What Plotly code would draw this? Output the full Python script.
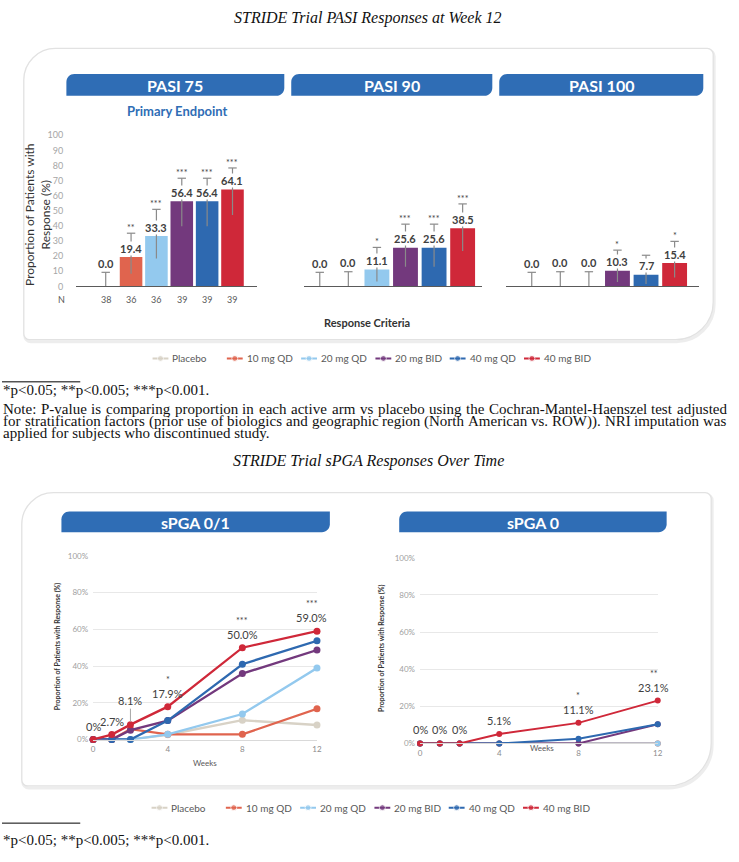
import plotly.graph_objects as go

W, H = 739, 862

# ---------------- data ----------------
arms = ["Placebo", "10 mg QD", "20 mg QD", "20 mg BID", "40 mg QD", "40 mg BID"]
n_per_arm = [38, 36, 36, 39, 39, 39]

pasi_criteria = ["PASI 75", "PASI 90", "PASI 100"]

pasi75_pct = [0.0, 19.4, 33.3, 56.4, 56.4, 64.1]
pasi75_ci_hi = [9.3, 35.2, 51.0, 71.6, 71.6, 78.4]
pasi75_ci_lo = [0.0, 8.3, 18.4, 39.8, 39.8, 47.2]
pasi75_sig = ["", "**", "***", "***", "***", "***"]

pasi90_pct = [0.0, 0.0, 11.1, 25.6, 25.6, 38.5]
pasi90_ci_hi = [9.3, 9.7, 25.8, 41.2, 41.2, 54.6]
pasi90_ci_lo = [0.0, 0.0, 3.3, 13.0, 13.0, 23.4]
pasi90_sig = ["", "", "*", "***", "***", "***"]

pasi100_pct = [0.0, 0.0, 0.0, 10.3, 7.7, 15.4]
pasi100_ci_hi = [9.3, 9.7, 9.7, 24.0, 20.6, 29.8]
pasi100_ci_lo = [0.0, 0.0, 0.0, 2.9, 1.6, 5.9]
pasi100_sig = ["", "", "", "*", "", "*"]

weeks = [0, 1, 2, 4, 8, 12]
spga_titles = ["sPGA 0/1", "sPGA 0"]

spga01_placebo = [0, 0, 0, 2.6, 10.5, 7.9]
spga01_10qd = [0, 0, 5.6, 2.8, 2.8, 16.7]
spga01_20qd = [0, 0, 0, 2.8, 13.9, 38.9]
spga01_20bid = [0, 0, 5.1, 10.3, 35.9, 48.7]
spga01_40qd = [0, 0, 0, 10.3, 41.0, 53.8]
spga01_40bid = [0, 2.7, 8.1, 17.9, 50.0, 59.0]
spga01_sig = ["", "", "", "*", "***", "***"]

spga0_placebo = [0, 0, 0, 0, 0, 0]
spga0_10qd = [0, 0, 0, 0, 0, 0]
spga0_20qd = [0, 0, 0, 0, 0, 0]
spga0_20bid = [0, 0, 0, 0, 0, 10.3]
spga0_40qd = [0, 0, 0, 0, 2.6, 10.3]
spga0_40bid = [0, 0, 0, 5.1, 11.1, 23.1]
spga0_sig = ["", "", "", "", "*", "**"]

pct_ticks = [0, 20, 40, 60, 80, 100]
pct_ticktext = ["0%", "20%", "40%", "60%", "80%", "100%"]

title_top = "STRIDE Trial PASI Responses at Week 12"
title_bottom = "STRIDE Trial sPGA Responses Over Time"
sig_note = "*p&lt;0.05; **p&lt;0.005; ***p&lt;0.001."
note_lines = [
    "Note: P-value is comparing proportion in each active arm vs placebo using the Cochran-Mantel-Haenszel test adjusted",
    "for stratification factors (prior use of biologics and geographic region (North American vs. ROW)). NRI imputation was",
    "applied for subjects who discontinued study.",
]

# ---------------- styles ----------------
arm_colors = ["#D8D2C6", "#E0644E", "#93C9EE", "#73397D", "#2E69B0", "#CF2839"]
HEADER = "#2F6DB5"
ERR = "#8A8A8A"
LABEL = "#404040"
SANS = "Lato"
SERIF = "Liberation Serif"


def px(x):
    return x / W


def py(y):
    return 1 - y / H


def rounded(x0, y0, x1, y1, tl=0, tr=0, br=0, bl=0):
    k = 0.4477

    def P(x, y):
        return f"{x / W:.5f},{1 - y / H:.5f}"

    d = f"M{P(x0 + tl, y0)} L{P(x1 - tr, y0)}"
    if tr:
        d += f" C{P(x1 - tr * k, y0)} {P(x1, y0 + tr * k)} {P(x1, y0 + tr)}"
    d += f" L{P(x1, y1 - br)}"
    if br:
        d += f" C{P(x1, y1 - br * k)} {P(x1 - br * k, y1)} {P(x1 - br, y1)}"
    d += f" L{P(x0 + bl, y1)}"
    if bl:
        d += f" C{P(x0 + bl * k, y1)} {P(x0, y1 - bl * k)} {P(x0, y1 - bl)}"
    d += f" L{P(x0, y0 + tl)}"
    if tl:
        d += f" C{P(x0, y0 + tl * k)} {P(x0 + tl * k, y0)} {P(x0 + tl, y0)}"
    return d + " Z"


annotations = []
shapes = []


def ann(x, y, text, size, color="#000", family=SANS, xanchor="center", yanchor="middle", **kw):
    annotations.append(dict(x=px(x), y=py(y), xref="paper", yref="paper", text=text,
                            showarrow=False, xanchor=xanchor, yanchor=yanchor,
                            font=dict(size=size, color=color, family=family),
                            borderpad=0, borderwidth=0, **kw))


fig = go.Figure()
layout = {}

# ---------------- panel backgrounds ----------------
for (x0, y0, x1, y1, tl, br) in [(22, 43, 718, 338, 32, 38), (20, 493, 716, 790, 32, 44)]:
    shapes.append(dict(type="path", xref="paper", yref="paper", layer="below",
                       path=rounded(x0 + 1, y0 + 2, x1 + 1, y1 + 2, tl, 6, br, 6),
                       line=dict(color="rgba(0,0,0,0.07)", width=3), fillcolor="rgba(0,0,0,0)"))
    shapes.append(dict(type="path", xref="paper", yref="paper", layer="below",
                       path=rounded(x0, y0, x1, y1, tl, 6, br, 6),
                       line=dict(color="#E2E2E2", width=1.3), fillcolor="white"))

# header bars
headers = [(65, 285, 69, 91, pasi_criteria[0]), (292, 495, 69, 91, pasi_criteria[1]),
           (502, 708, 69, 91, pasi_criteria[2]),
           (60, 331, 512, 533, spga_titles[0]), (401, 671, 512, 533, spga_titles[1])]
for (x0, x1, y0, y1, txt) in headers:
    shapes.append(dict(type="path", xref="paper", yref="paper", layer="below",
                       path=rounded(x0, y0, x1, y1, 8, 0, 8, 0),
                       line=dict(width=0), fillcolor=HEADER))
    ann((x0 + x1) / 2, (y0 + y1) / 2 + 0.5, f"<b>{txt}</b>", 16, "white")

# ---------------- bar panels ----------------
bar_geom = [
    dict(x0=75, x1=257, c0=104.7, step=25.6, width=0.89),
    dict(x0=305, x1=485, c0=320.8, step=28.85, width=0.87),
    dict(x0=509, x1=704, c0=534.8, step=28.85, width=0.87),
]
pasi_sets = [
    (pasi75_pct, pasi75_ci_lo, pasi75_ci_hi, pasi75_sig),
    (pasi90_pct, pasi90_ci_lo, pasi90_ci_hi, pasi90_sig),
    (pasi100_pct, pasi100_ci_lo, pasi100_ci_hi, pasi100_sig),
]
idx = list(range(len(arms)))

for k, (vals, lo, hi, sig) in enumerate(pasi_sets):
    g = bar_geom[k]
    sfx = "" if k == 0 else str(k + 1)
    xa, ya = "x" + sfx, "y" + sfx
    fig.add_trace(go.Bar(x=idx, y=vals, width=g["width"], xaxis=xa, yaxis=ya,
                         marker=dict(color=arm_colors, line=dict(width=0)),
                         showlegend=False, hoverinfo="skip"))
    ex, ey = [], []
    for i in idx:
        ex += [i, i, None]
        ey += [lo[i], hi[i], None]
    fig.add_trace(go.Scatter(x=ex, y=ey, mode="lines", xaxis=xa, yaxis=ya,
                             line=dict(color=ERR, width=1.2), showlegend=False, hoverinfo="skip"))
    fig.add_trace(go.Scatter(x=idx, y=hi, mode="markers", xaxis=xa, yaxis=ya, cliponaxis=False,
                             marker=dict(symbol="line-ew", size=6, color=ERR,
                                         line=dict(color=ERR, width=1.2)),
                             showlegend=False, hoverinfo="skip"))
    layout["xaxis" + sfx] = dict(domain=[px(g["x0"]), px(g["x1"])],
                                 range=[(g["x0"] - g["c0"]) / g["step"], (g["x1"] - g["c0"]) / g["step"]],
                                 showline=True, linecolor="#5A5A5A", linewidth=1, showticklabels=False,
                                 ticks="", showgrid=False, zeroline=False, anchor=ya, fixedrange=True)
    layout["yaxis" + sfx] = dict(domain=[py(284), py(131)], range=[0, 100], showgrid=False, zeroline=False,
                                 showline=False, showticklabels=(k == 0), tickvals=list(range(0, 101, 10)),
                                 tickfont=dict(size=9, color="#A6A6A6"), ticklabelstandoff=12,
                                 ticks="", anchor=xa, fixedrange=True)
    for i in idx:
        base = vals[i] if vals[i] > 0 else hi[i]
        annotations.append(dict(x=i, y=base, xref=xa, yref=ya, text=f"<b>{vals[i]:.1f}</b>",
                                showarrow=False, yanchor="bottom", yshift=1.5, bgcolor="white",
                                borderpad=0, font=dict(size=11, color=LABEL, family=SANS)))
        if sig[i]:
            annotations.append(dict(x=i, y=hi[i], xref=xa, yref=ya, text=sig[i], showarrow=False,
                                    yanchor="bottom", yshift=-1, borderpad=0,
                                    font=dict(size=9, color=LABEL, family=SANS)))
        if k == 0:
            annotations.append(dict(x=i, y=py(297), xref=xa, yref="paper", text=str(n_per_arm[i]),
                                    showarrow=False, font=dict(size=9, color="#595959", family=SANS)))

ann(60, 297, "N", 9, "#595959")
ann(177, 106, "<b>Primary Endpoint</b>", 13, HEADER)
ann(36, 212, "Proportion of Patients with<br>Response (%)", 12, "#333333", textangle=-90)
ann(368, 321, "<b>Response Criteria</b>", 11, "#333333")

# ---------------- line panels ----------------
line_geom = [dict(x0=92, x1=318, y0=743, y1=557, lw=2.3, ms=7),
             dict(x0=422, x1=662, y0=747, y1=559, lw=2.0, ms=6)]
spga_sets = [
    ([spga01_placebo, spga01_10qd, spga01_20qd, spga01_20bid, spga01_40qd, spga01_40bid], spga01_sig),
    ([spga0_placebo, spga0_10qd, spga0_20qd, spga0_20bid, spga0_40qd, spga0_40bid], spga0_sig),
]
label_leader = {0: {2: 24}, 1: {}}
label_xshift = {0: {5: -5}, 1: {5: -4}}

for k, (series, sig) in enumerate(spga_sets):
    g = line_geom[k]
    sfx = str(k + 4)
    xa, ya = "x" + sfx, "y" + sfx
    for a, c, vals in zip(arms, arm_colors, series):
        fig.add_trace(go.Scatter(x=weeks, y=vals, mode="lines+markers", name=a, xaxis=xa, yaxis=ya,
                                 line=dict(color=c, width=g["lw"]), marker=dict(color=c, size=g["ms"]),
                                 cliponaxis=False, showlegend=False, hoverinfo="skip"))
    layout["xaxis" + sfx] = dict(domain=[px(g["x0"]), px(g["x1"])], range=[0, 12], tickvals=[0, 4, 8, 12],
                                 tickfont=dict(size=8, color="#8C8C8C"), showline=True, linecolor="#D9D9D9",
                                 linewidth=1, showgrid=False, zeroline=False, ticks="", anchor=ya,
                                 ticklabelstandoff=2, fixedrange=True)
    layout["yaxis" + sfx] = dict(domain=[py(g["y0"]), py(g["y1"])], range=[0, 100],
                                 tickvals=pct_ticks, ticktext=pct_ticktext,
                                 tickfont=dict(size=8, color="#A0A0A0"), showgrid=True, gridcolor="#E8E8E8",
                                 gridwidth=1, zeroline=False, showline=False, ticks="", anchor=xa,
                                 ticklabelstandoff=4, fixedrange=True)
    top = series[-1]
    for j, w in enumerate(weeks):
        txt = "0%" if top[j] == 0 else f"{top[j]:.1f}%"
        xs = label_xshift[k].get(j, 0)
        if j in label_leader[k]:
            annotations.append(dict(x=w, y=top[j], xref=xa, yref=ya, text=txt, showarrow=True,
                                    arrowhead=0, arrowwidth=1, arrowcolor="#A6A6A6", ax=0,
                                    ay=-label_leader[k][j], standoff=3,
                                    font=dict(size=11, color=LABEL, family=SANS)))
        else:
            annotations.append(dict(x=w, y=top[j], xref=xa, yref=ya, text=txt, showarrow=False,
                                    yanchor="bottom", yshift=5, xshift=xs,
                                    font=dict(size=11, color=LABEL, family=SANS)))
        if sig[j]:
            annotations.append(dict(x=w, y=top[j], xref=xa, yref=ya, text=sig[j], showarrow=False,
                                    yanchor="bottom", yshift=20, xshift=xs,
                                    font=dict(size=9, color=LABEL, family=SANS)))

ann(56, 648, "<b>Proportion of Patients with Response (%)</b>", 7, "#333333", textangle=-90)
ann(383, 650, "<b>Proportion of Patients with Response (%)</b>", 7, "#333333", textangle=-90)
ann(205, 767, "Weeks", 8, "#595959")
ann(545, 752, "Weeks", 8, "#595959")

# ---------------- legend rows (keys drawn on hidden pixel-unit axes) ----------------
legend_rows = [dict(ax="6", y=357, first=160), dict(ax="7", y=812, first=159)]
LEG_STEP, LEG_HALF, LEG_TXT = 75, 8, 12
for row in legend_rows:
    xa, ya = "x" + row["ax"], "y" + row["ax"]
    layout["xaxis" + row["ax"]] = dict(domain=[0, 1], range=[0, W], visible=False, fixedrange=True,
                                       anchor=ya)
    layout["yaxis" + row["ax"]] = dict(domain=[py(row["y"] + 8), py(row["y"] - 8)], range=[-1, 1],
                                       visible=False, fixedrange=True, anchor=xa)
    for i, (a, c) in enumerate(zip(arms, arm_colors)):
        cx = row["first"] + LEG_STEP * i
        fig.add_trace(go.Scatter(x=[cx - LEG_HALF, cx, cx + LEG_HALF], y=[0, 0, 0], mode="lines+markers",
                                 xaxis=xa, yaxis=ya, line=dict(color=c, width=2),
                                 marker=dict(color=c, size=[0, 6, 0]), cliponaxis=False,
                                 showlegend=False, hoverinfo="skip"))
        ann(cx + LEG_TXT, row["y"], a, 10, "#595959", xanchor="left")

# ---------------- page texts ----------------
ann(369.5, 12, f"<i>{title_top}</i>", 16, "#111111", SERIF)
ann(369.5, 461, f"<i>{title_bottom}</i>", 16, "#111111", SERIF)
for yy in (389, 845):
    ann(1, yy, sig_note, 15, "#111111", SERIF, xanchor="left")
for yy in (380.7, 827.7):
    shapes.append(dict(type="line", xref="paper", yref="paper", x0=0, x1=px(79), y0=py(yy), y1=py(yy),
                       line=dict(color="#000000", width=1)))

# justified note text (Times metrics)
times_w = {' ': 250, 'a': 444, 'b': 500, 'c': 444, 'd': 500, 'e': 444, 'f': 333, 'g': 500, 'h': 500,
           'i': 278, 'j': 278, 'k': 500, 'l': 278, 'm': 778, 'n': 500, 'o': 500, 'p': 500, 'q': 500,
           'r': 333, 's': 389, 't': 278, 'u': 500, 'v': 500, 'w': 722, 'x': 500, 'y': 500, 'z': 444,
           'A': 722, 'B': 667, 'C': 667, 'D': 722, 'E': 611, 'F': 556, 'G': 722, 'H': 722, 'I': 333,
           'J': 389, 'K': 722, 'L': 611, 'M': 889, 'N': 722, 'O': 722, 'P': 556, 'Q': 722, 'R': 667,
           'S': 556, 'T': 611, 'U': 722, 'V': 722, 'W': 944, 'X': 722, 'Y': 722, 'Z': 611,
           '.': 250, ',': 250, ':': 278, ';': 278, '(': 333, ')': 333, '-': 333, '<': 564, '*': 500}
NOTE_SIZE = 15


def tw(s):
    return sum(times_w.get(ch, 500) for ch in s) * NOTE_SIZE / 1000.0


note_y = [408, 420.5, 433]
left, right = 1.0, 731.0
for li, (line, yy) in enumerate(zip(note_lines, note_y)):
    if li == len(note_lines) - 1:
        ann(left, yy, line, NOTE_SIZE, "#111111", SERIF, xanchor="left")
        continue
    words = line.split(" ")
    total = sum(tw(w) for w in words)
    gap = (right - left - total) / (len(words) - 1)
    xcur = left
    for w in words:
        ann(xcur, yy, w, NOTE_SIZE, "#111111", SERIF, xanchor="left")
        xcur += tw(w) + gap

fig.update_layout(
    width=W, height=H, margin=dict(l=0, r=0, t=0, b=0, pad=0),
    paper_bgcolor="white", plot_bgcolor="rgba(0,0,0,0)",
    font=dict(family=SANS), barmode="overlay", showlegend=False,
    annotations=annotations, shapes=shapes, hovermode=False,
    **layout,
)

fig.write_html("out.html")
